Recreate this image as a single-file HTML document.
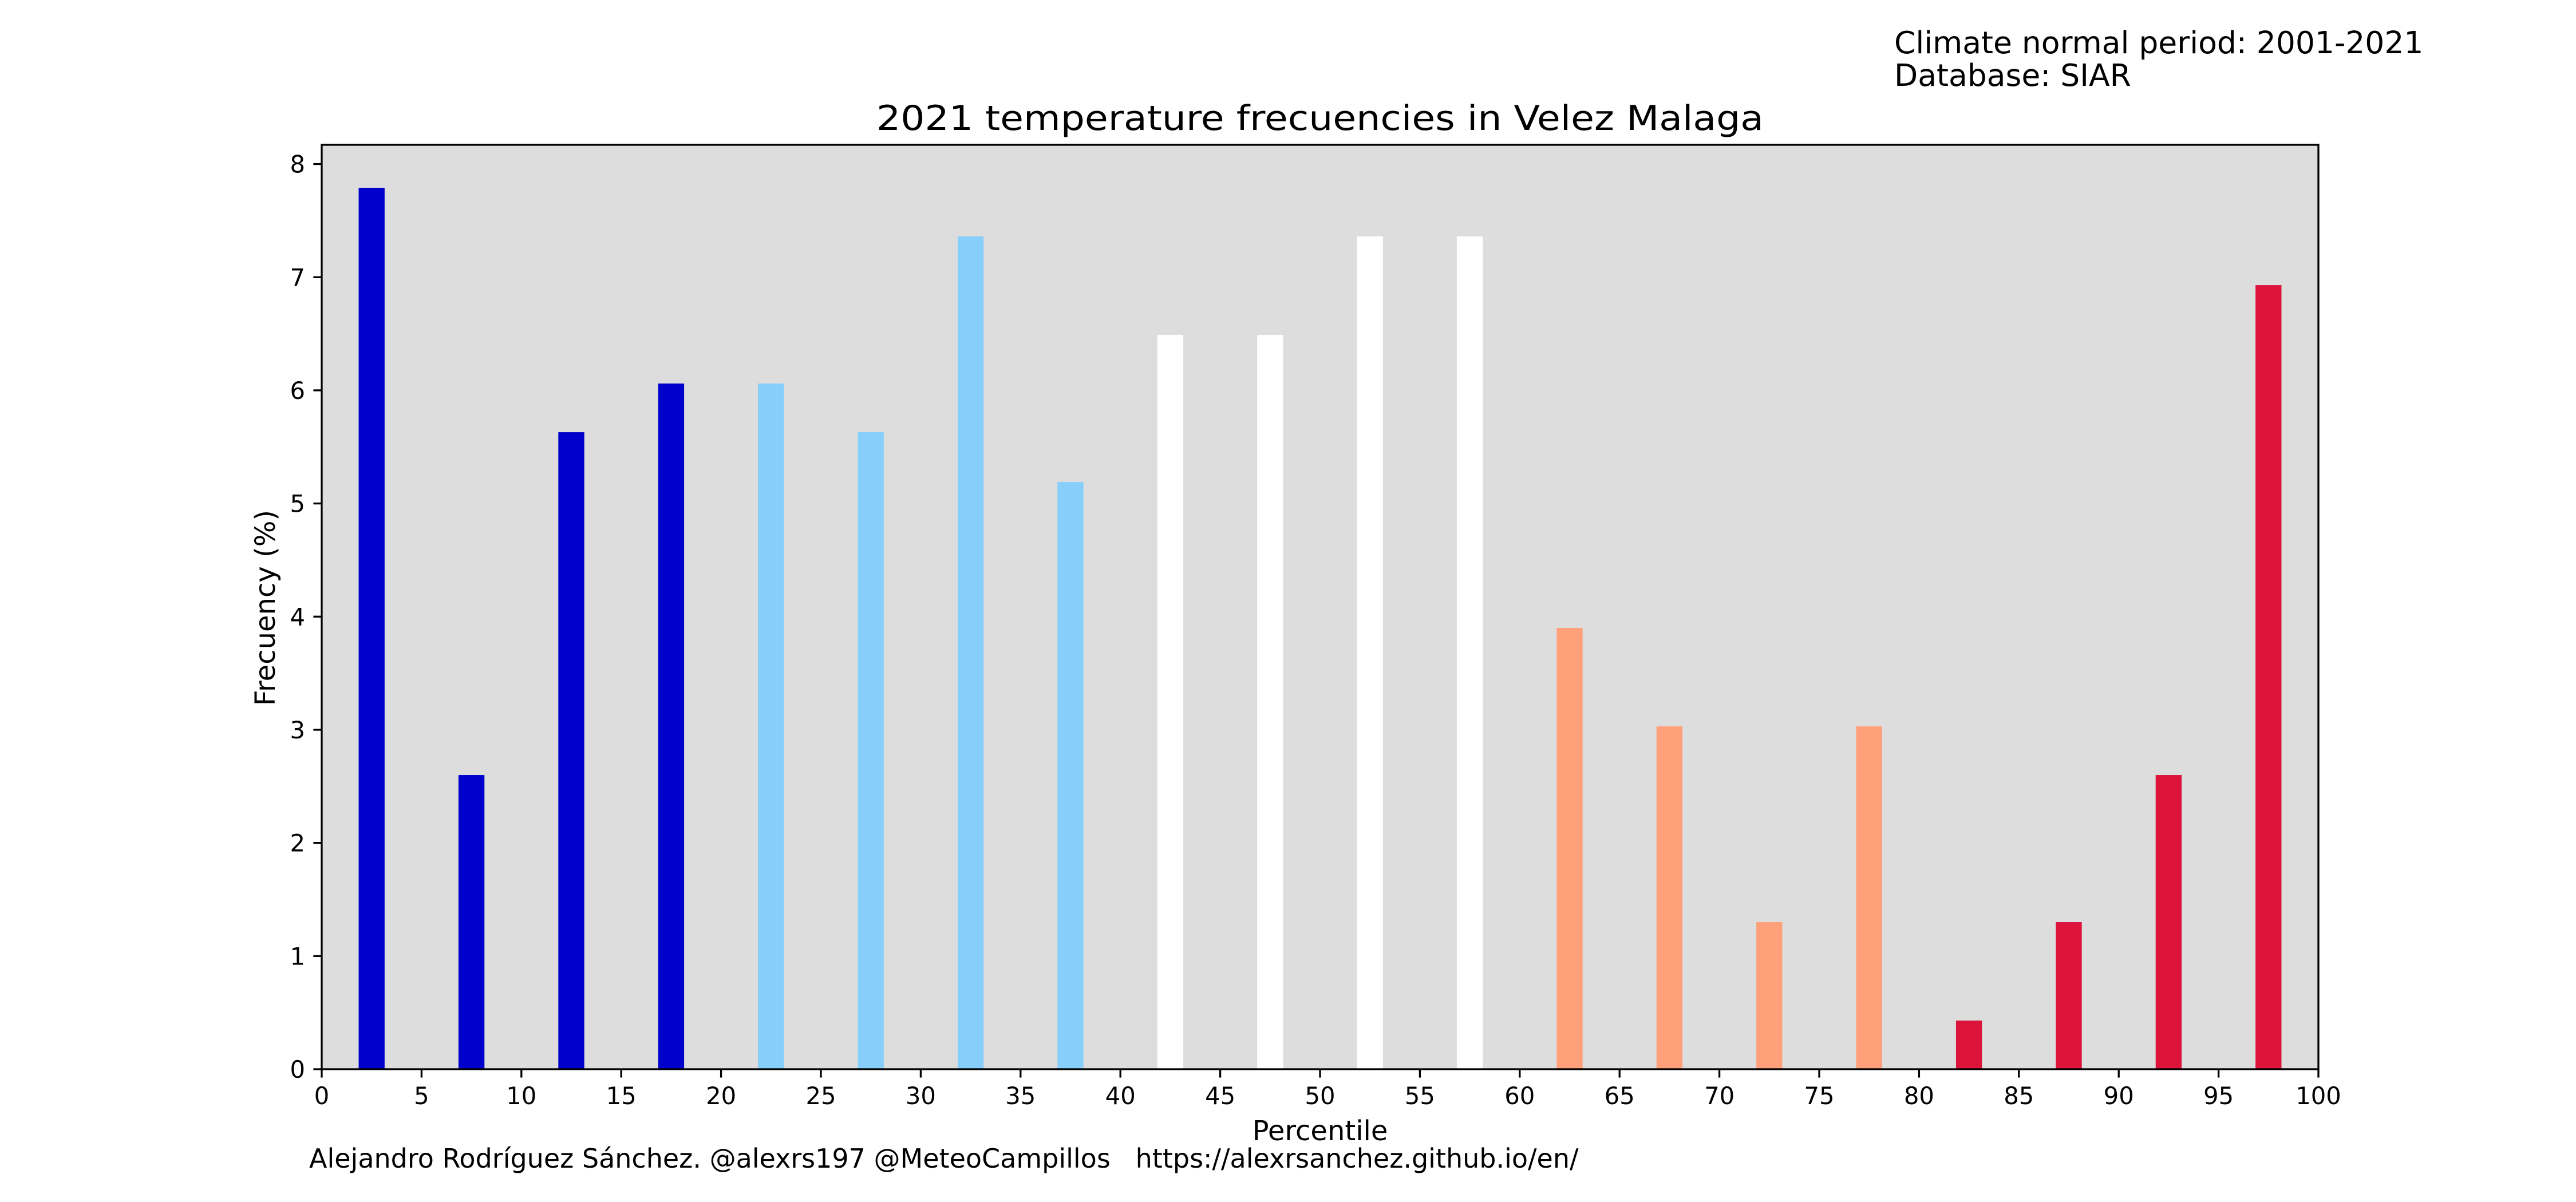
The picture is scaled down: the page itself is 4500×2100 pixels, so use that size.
<!DOCTYPE html>
<html><head><meta charset="utf-8"><style>html,body{margin:0;padding:0;background:#fff}svg{display:block}text{font-family:"DejaVu Sans","Liberation Sans",sans-serif;fill:#000;white-space:pre}</style></head>
<body>
<svg id="chart" width="4500" height="2100" viewBox="0 0 4500 2100" xmlns="http://www.w3.org/2000/svg">
<rect x="562" y="253" width="3488" height="1615" fill="#dddddd"/>
<g id="bars"></g>
<g id="axes"></g>
<text x="2306" y="227" font-size="60" text-anchor="middle" textLength="1550" lengthAdjust="spacingAndGlyphs">2021 temperature frecuencies in Velez Malaga</text>
<text x="3309" y="93" font-size="53.5">Climate normal period: 2001-2021</text>
<text x="3309" y="150" font-size="53.5">Database: SIAR</text>
<text x="2306" y="1992" font-size="48" text-anchor="middle">Percentile</text>
<text x="0" y="0" font-size="48" text-anchor="middle" transform="translate(480,1062) rotate(-90)">Frecuency (%)</text>
<text x="540" y="2040" font-size="46" xml:space="preserve">Alejandro Rodríguez Sánchez. @alexrs197 @MeteoCampillos   https://alexrsanchez.github.io/en/</text>
</svg>
<script>
const categories = [2.5,7.5,12.5,17.5,22.5,27.5,32.5,37.5,42.5,47.5,52.5,57.5,62.5,67.5,72.5,77.5,82.5,87.5,92.5,97.5];
const values = [7.79,2.60,5.63,6.06,6.06,5.63,7.36,5.19,6.49,6.49,7.36,7.36,3.90,3.03,1.30,3.03,0.43,1.30,2.60,6.93];
const barColors = ["#0000cd","#0000cd","#0000cd","#0000cd","#87cefa","#87cefa","#87cefa","#87cefa","#ffffff","#ffffff","#ffffff","#ffffff","#ffa07a","#ffa07a","#ffa07a","#ffa07a","#dc143c","#dc143c","#dc143c","#dc143c"];
const xTicks = [0,5,10,15,20,25,30,35,40,45,50,55,60,65,70,75,80,85,90,95,100];
const yTicks = [0,1,2,3,4,5,6,7,8];
const barWidth = 1.3;

const L=562,R=4050,T=253,B=1868, XMAX=100, YMAX=8.17;
const NS="http://www.w3.org/2000/svg";
function xs(v){return L+(v/XMAX)*(R-L);}
function ys(v){return B-(v/YMAX)*(B-T);}
const bars=document.getElementById('bars'), axes=document.getElementById('axes');
function mk(tag,attrs,parent){const e=document.createElementNS(NS,tag);for(const k in attrs)e.setAttribute(k,attrs[k]);parent.appendChild(e);return e;}
categories.forEach((c,i)=>{
  const x0=xs(c-barWidth/2), x1=xs(c+barWidth/2), y=ys(values[i]);
  const r=mk('rect',{x:x0,y:y,width:x1-x0,height:B-y,fill:barColors[i]},bars);
  
  
});
const frame=mk('rect',{x:L,y:T,width:R-L,height:B-T,fill:'none',stroke:'#000','stroke-width':3.3},axes);


xTicks.forEach(t=>{
  const x=xs(t);
  const tk=mk('line',{x1:x,x2:x,y1:B,y2:B+14.6,stroke:'#000','stroke-width':3.3},axes);
  
  
  const lb=mk('text',{x:x,y:B+61,'font-size':41.7,'text-anchor':'middle'},axes);
  lb.textContent=t;
  
  
});
yTicks.forEach(t=>{
  const y=ys(t);
  const tk=mk('line',{x1:L-14.6,x2:L,y1:y,y2:y,stroke:'#000','stroke-width':3.3},axes);
  
  
  const lb=mk('text',{x:L-29,y:y+15,'font-size':41.7,'text-anchor':'end'},axes);
  lb.textContent=t;
  
  
});
</script>
</body></html>
